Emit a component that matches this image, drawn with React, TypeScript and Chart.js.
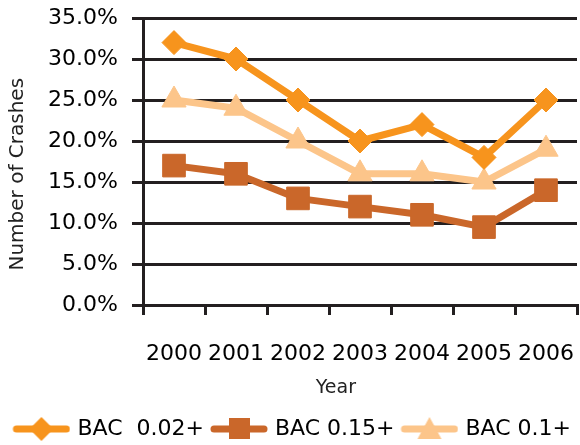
import React, { useEffect, useRef } from "react";
import { Chart, registerables } from "chart.js";

Chart.register(...registerables);

const years = ["2000", "2001", "2002", "2003", "2004", "2005", "2006"];
const bac002 = [32, 30, 25, 20, 22, 18, 25];
const bac015 = [17, 16, 13, 12, 11, 9.5, 14];
const bac01 = [25, 24, 20, 16, 16, 15, 19];
const seriesLabels = ["BAC  0.02+", "BAC 0.15+", "BAC 0.1+"];

const C1 = "#F7941D";
const C2 = "#CA672A";
const C3 = "#FCC58A";
const GRID = "#231F20";
const FONT = "'DejaVu Sans', sans-serif";

function makeLegendIcon(color: string, shape: string): HTMLCanvasElement {
  const c = document.createElement("canvas");
  c.width = 62;
  c.height = 30;
  const ctx = c.getContext("2d")!;
  ctx.strokeStyle = color;
  ctx.fillStyle = color;
  ctx.lineWidth = 7;
  ctx.lineCap = "round";
  ctx.beginPath();
  ctx.moveTo(8, 15);
  ctx.lineTo(58, 15);
  ctx.stroke();
  ctx.beginPath();
  if (shape === "diamond") {
    ctx.moveTo(33, 3);
    ctx.lineTo(45, 15);
    ctx.lineTo(33, 27);
    ctx.lineTo(21, 15);
    ctx.closePath();
  } else if (shape === "square") {
    ctx.rect(23, 4, 21, 21);
  } else {
    ctx.moveTo(33, 3);
    ctx.lineTo(45, 25);
    ctx.lineTo(21, 25);
    ctx.closePath();
  }
  ctx.fill();
  return c;
}

// Draws the horizontal grid lines across the plot using the y scale's own ticks
const gridPlugin = {
  id: "yGridLines",
  beforeDatasetsDraw(chart: any) {
    const { ctx, chartArea, scales } = chart;
    const y = scales.y;
    ctx.save();
    ctx.strokeStyle = GRID;
    ctx.lineWidth = 3;
    y.ticks.forEach((t: any) => {
      const py = Math.round(y.getPixelForValue(t.value)) + 0.5;
      ctx.beginPath();
      ctx.moveTo(chartArea.left, py);
      ctx.lineTo(chartArea.right, py);
      ctx.stroke();
    });
    ctx.restore();
  },
};

export default function App() {
  const ref = useRef<HTMLCanvasElement | null>(null);

  useEffect(() => {
    if (!ref.current) return;
    const icons = [
      makeLegendIcon(C1, "diamond"),
      makeLegendIcon(C2, "square"),
      makeLegendIcon(C3, "triangle"),
    ];
    const common = {
      borderWidth: 7,
      borderJoinStyle: "round" as const,
      borderCapStyle: "round" as const,
      tension: 0,
      pointBorderWidth: 1,
      fill: false,
    };
    const chart = new Chart(ref.current, {
      type: "line",
      plugins: [gridPlugin],
      data: {
        labels: years,
        datasets: [
          {
            ...common,
            label: seriesLabels[0],
            data: bac002,
            borderColor: C1,
            backgroundColor: C1,
            pointBackgroundColor: C1,
            pointBorderColor: C1,
            pointStyle: "rectRot",
            pointRadius: 12,
          },
          {
            ...common,
            label: seriesLabels[1],
            data: bac015,
            borderColor: C2,
            backgroundColor: C2,
            pointBackgroundColor: C2,
            pointBorderColor: C2,
            pointStyle: "rect",
            pointRadius: 16,
          },
          {
            ...common,
            label: seriesLabels[2],
            data: bac01,
            borderColor: C3,
            backgroundColor: C3,
            pointBackgroundColor: C3,
            pointBorderColor: C3,
            pointStyle: "triangle",
            pointRadius: 14,
          },
        ],
      },
      options: {
        responsive: false,
        animation: false,
        layout: { autoPadding: false, padding: { top: 18, right: 3, left: 0, bottom: -5 } },
        plugins: {
          tooltip: { enabled: false },
          legend: {
            position: "bottom",
            align: "end",
            labels: {
              usePointStyle: true,
              pointStyleWidth: 54,
              boxHeight: 22,
              padding: 6,
              color: "#000",
              font: { family: FONT, size: 22 },
              generateLabels: () =>
                seriesLabels.map((t, i) => ({
                  text: t,
                  pointStyle: icons[i] as any,
                  fillStyle: "#000",
                  strokeStyle: "#000",
                  lineWidth: 0,
                  hidden: false,
                  datasetIndex: i,
                  fontColor: "#000",
                })),
            },
          },
        },
        scales: {
          x: {
            offset: true,
            grid: {
              offset: true,
              drawOnChartArea: false,
              drawTicks: true,
              tickLength: 10,
              color: GRID,
              lineWidth: 3,
            },
            border: { display: true, color: GRID, width: 3 },
            ticks: {
              color: "#000",
              font: { family: FONT, size: 22 },
              padding: 26,
              autoSkip: false,
              maxRotation: 0,
              minRotation: 0,
            },
            title: {
              display: true,
              text: "Year        ",
              color: "#222",
              font: { family: FONT, size: 19 },
              padding: { top: 6, bottom: 13 },
            },
            afterFit: (s: any) => {
              s.height = 107;
              s.paddingLeft = 0;
              s.paddingRight = 0;
            },
          },
          y: {
            min: 0,
            max: 35,
            grid: {
              display: true,
              drawOnChartArea: true,
              color: GRID,
              lineWidth: 3,
              drawTicks: true,
              tickLength: 11,
            },
            border: { display: true, color: GRID, width: 3 },
            ticks: {
              stepSize: 5,
              color: "#000",
              padding: 14,
              font: { family: FONT, size: 22 },
              callback: (v: any) => Number(v).toFixed(1) + "%",
            },
            title: {
              display: true,
              text: "Number of Crashes    ",
              color: "#222",
              font: { family: FONT, size: 20 },
              padding: { top: 6, bottom: 0 },
            },
            afterFit: (s: any) => {
              s.width = 143;
              s.paddingTop = 0;
              s.paddingBottom = 0;
            },
          },
        },
      },
    });
    return () => chart.destroy();
  }, []);

  return (
    <div style={{ position: "absolute", left: 0, top: 0, width: 580, height: 445 }}>
      <canvas ref={ref} width={580} height={445} style={{ display: "block" }} />
    </div>
  );
}
